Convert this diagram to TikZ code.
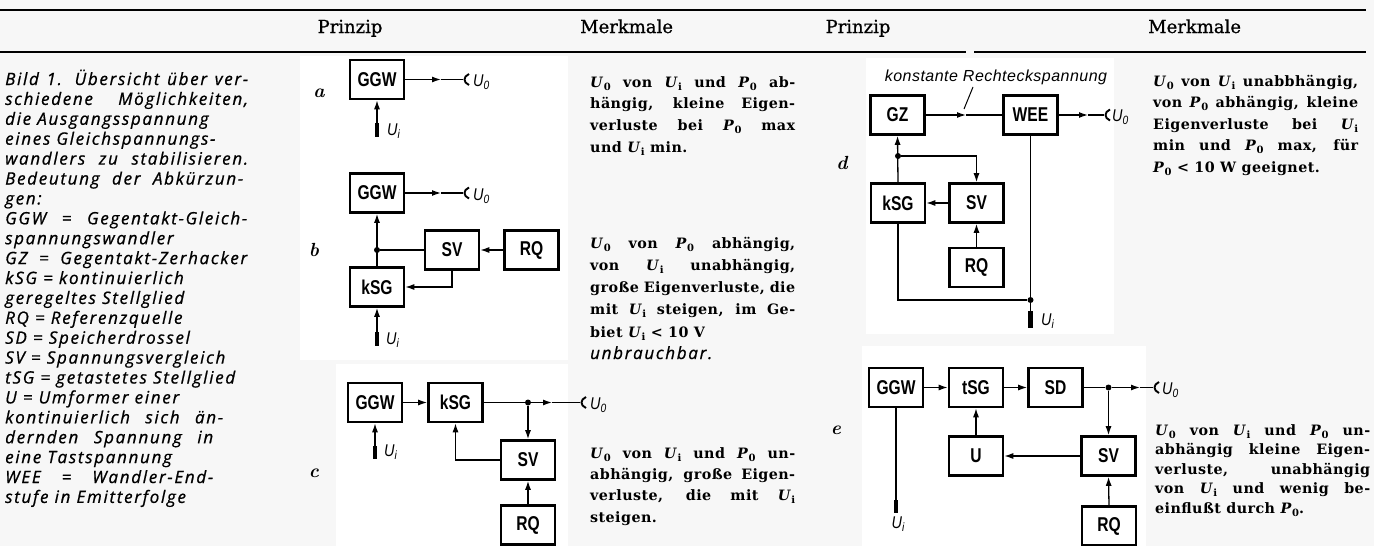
\documentclass[tikz,border=0pt]{standalone}
\usepackage{fontspec}
\usetikzlibrary{arrows.meta,calc}
\newfontfamily\capfont[LetterSpace=10,FakeBold=0.8]{Open Sans}
\newfontfamily\mfont[LetterSpace=3]{DejaVu Serif}
\newfontfamily\hfont[FakeBold=0.8]{DejaVu Serif}
\newfontfamily\bxfont[FakeStretch=0.78]{Liberation Sans}
\newfontfamily\lfont[FakeStretch=0.85]{Liberation Sans}
\newfontfamily\krfont[LetterSpace=3]{Liberation Sans}
\newcommand\JL[2]{\makebox[#1][s]{#2}}
\newcommand\Sb[2]{\textit{#1}\raisebox{-0.45ex}{\fontsize{10}{10}\selectfont #2}}
\newcommand\Lsub[2]{#1\raisebox{-0.35ex}{\fontsize{12}{12}\selectfont #2}}
\begin{document}
\begin{tikzpicture}[x=1pt,y=-1pt,
  blk/.style={draw, line width=2.6pt, minimum width=54pt, minimum height=39pt, inner sep=0pt,
    font=\bxfont\bfseries\fontsize{20}{20}\selectfont},
  ln/.style={line width=1.3pt},
  arr/.style={ln, -{Latex[length=9pt,width=6pt]}},
  stub/.style={line width=4.5pt},
  dot/.style={circle, fill, inner sep=0pt, minimum size=6pt},
  lbl/.style={inner sep=0pt, font=\lfont\itshape\fontsize{17}{17}\selectfont},
  abclbl/.style={inner sep=0pt, font=\itshape\bfseries\fontsize{19}{19}\selectfont},
  captxt/.style={anchor=base west, inner sep=0pt, font=\capfont\itshape\fontsize{17}{19}\selectfont},
  mk/.style={anchor=base west, inner sep=0pt, font=\mfont\bfseries\fontsize{14.3}{17}\selectfont},
  hd/.style={anchor=base, inner sep=0pt, font=\hfont\fontsize{18}{18}\selectfont},
  term/.pic={\draw[line width=1.9pt] (6,-5.5) .. controls (0,-3) and (0,3) .. (6,5.5);}
]
\useasboundingbox (0,0) rectangle (1374,546);
\fill[gray!6] (0,0) rectangle (1374,546);
\fill[white] (300,56) rectangle (568,360);
\fill[white] (336,364) rectangle (568,546);
\fill[white] (866,58) rectangle (1114,334);
\fill[white] (862,346) rectangle (1146,546);

% header rules
\draw[line width=1.6pt] (0,10) -- (1366,10);
\draw[line width=1.6pt] (0,52) -- (966,52);
\draw[line width=1.6pt] (974,52) -- (1366,52);
\node[hd] (h1) at (350,33) {Prinzip};
\node[hd, anchor=base west] (h2) at (580,33) {Merkmale};
\node[hd] (h3) at (858,33) {Prinzip};
\node[hd, anchor=base west] (h4) at (1148,33) {Merkmale};

% caption
\node[captxt] (c1) at (5,85) {\JL{243pt}{Bild 1. Übersicht über ver-}};
\node[captxt] (c2) at (5,104.9) {\JL{243pt}{schiedene Möglichkeiten,}};
\node[captxt] (c3) at (5,124.8) {die Ausgangsspannung};
\node[captxt] (c4) at (5,144.7) {eines Gleichspannungs-};
\node[captxt] (c5) at (5,164.6) {\JL{243pt}{wandlers zu stabilisieren.}};
\node[captxt] (c6) at (5,184.5) {\JL{238pt}{Bedeutung der Abkürzun-}};
\node[captxt] (c7) at (5,204.4) {gen:};
\node[captxt] (c8) at (5,224.3) {\JL{242pt}{GGW = Gegentakt-Gleich-}};
\node[captxt] (c9) at (5,244.2) {spannungswandler};
\node[captxt] (c10) at (5,264.1) {\JL{242pt}{GZ = Gegentakt-Zerhacker}};
\node[captxt] (c11) at (5,284) {kSG = kontinuierlich};
\node[captxt] (c12) at (5,303.9) {geregeltes Stellglied};
\node[captxt] (c13) at (5,323.8) {RQ = Referenzquelle};
\node[captxt] (c14) at (5,343.7) {SD = Speicherdrossel};
\node[captxt] (c15) at (5,363.6) {SV = Spannungsvergleich};
\node[captxt] (c16) at (5,383.5) {tSG = getastetes Stellglied};
\node[captxt] (c17) at (5,403.4) {U = Umformer einer};
\node[captxt] (c18) at (5,423.3) {\JL{218pt}{kontinuierlich sich än-}};
\node[captxt] (c19) at (5,443.2) {\JL{208pt}{dernden Spannung in}};
\node[captxt] (c20) at (5,463.1) {eine Tastspannung};
\node[captxt] (c21) at (5,483) {\JL{208pt}{WEE = Wandler-End-}};
\node[captxt] (c22) at (5,502.9) {stufe in Emitterfolge};

% Merkmale a
\node[mk] (ma1) at (590,87) {\JL{205pt}{\Sb U0 von \Sb Ui und \Sb P0 ab-}};
\node[mk] (ma2) at (590,108.5) {\JL{205pt}{hängig, kleine Eigen-}};
\node[mk] (ma3) at (590,130) {\JL{205pt}{verluste bei \Sb P0 max}};
\node[mk] (ma4) at (590,152) {und \Sb Ui min.};
% Merkmale b
\node[mk] (mb1) at (590,248) {\JL{205pt}{\Sb U0 von \Sb P0 abhängig,}};
\node[mk] (mb2) at (590,270) {\JL{205pt}{von \Sb Ui unabhängig,}};
\node[mk] (mb3) at (590,292) {\JL{205pt}{große Eigenverluste, die}};
\node[mk] (mb4) at (590,314) {\JL{205pt}{mit \Sb Ui steigen, im Ge-}};
\node[mk] (mb5) at (590,337) {biet \Sb Ui < 10 V};
\node[captxt] (mb6) at (590,359) {unbrauchbar.};
% Merkmale c
\node[mk] (mc1) at (590,458) {\JL{205pt}{\Sb U0 von \Sb Ui und \Sb P0 un-}};
\node[mk] (mc2) at (590,479) {\JL{205pt}{abhängig, große Eigen-}};
\node[mk] (mc3) at (590,500) {\JL{205pt}{verluste, die mit \Sb Ui}};
\node[mk] (mc4) at (590,522) {steigen.};
% Merkmale d
\node[mk] (md1) at (1153,86) {\JL{205pt}{\Sb U0 von \Sb Ui unabbhängig,}};
\node[mk] (md2) at (1153,107.5) {\JL{205pt}{von \Sb P0 abhängig, kleine}};
\node[mk] (md3) at (1153,129) {\JL{205pt}{Eigenverluste bei \Sb Ui}};
\node[mk] (md4) at (1153,150.5) {\JL{205pt}{min und \Sb P0 max, für}};
\node[mk] (md5) at (1153,172) {\Sb P0 < 10 W geeignet.};
% Merkmale e
\node[mk] (me1) at (1155,435) {\JL{215pt}{\Sb U0 von \Sb Ui und \Sb P0 un-}};
\node[mk] (me2) at (1155,454.5) {\JL{215pt}{abhängig kleine Eigen-}};
\node[mk] (me3) at (1155,474) {\JL{215pt}{verluste, unabhängig}};
\node[mk] (me4) at (1155,493.5) {\JL{215pt}{von \Sb Ui und wenig be-}};
\node[mk] (me5) at (1155,513) {einflußt durch \Sb P0.};

% ---------- diagram a
\node[abclbl] (la) at (319,93) {a};
\node[blk] (GGWa) at (377,79.5) {GGW};
\coordinate (ma) at (441,79.5);
\coordinate (fa) at (463,79.5);
\draw[arr] (GGWa.east) -- (ma);
\draw[ln] (ma) -- (fa);
\pic at (fa) {term};
\node[lbl, anchor=west] (Uoa) at (473,82) {\Lsub{U}{0}};
\coordinate (sa1) at (377,123);
\coordinate (sa2) at (377,137);
\draw[stub] (sa1) -- (sa2);
\draw[arr] (sa1) -- (GGWa.south);
\node[lbl, anchor=west] (Uia) at (387,131) {\Lsub{U}{i}};

% ---------- diagram b
\node[abclbl] (lb) at (314,250) {b};
\node[blk] (GGWb) at (377,193) {GGW};
\node[blk] (SVb) at (452,250) {SV};
\node[blk] (RQb) at (531.5,250) {RQ};
\node[blk] (kSGb) at (377,287) {kSG};
\coordinate (mb) at (441,193);
\coordinate (fb) at (463,193);
\draw[arr] (GGWb.east) -- (mb);
\draw[ln] (mb) -- (fb);
\pic at (fb) {term};
\node[lbl, anchor=west] (Uob) at (473,196) {\Lsub{U}{0}};
\node[dot] (jb) at (377,250) {};
\draw[arr] (kSGb.north) -- (GGWb.south);
\draw[ln] (SVb.west) -- (jb);
\draw[arr] (RQb.west) -- (SVb.east);
\draw[arr] (SVb.south) |- (kSGb.east);
\coordinate (sb1) at (377,332);
\coordinate (sb2) at (377,346);
\draw[stub] (sb1) -- (sb2);
\draw[arr] (sb1) -- (kSGb.south);
\node[lbl, anchor=west] (Uib) at (386,340) {\Lsub{U}{i}};

% ---------- diagram c
\node[abclbl] (lc) at (314,473) {c};
\node[blk] (GGWc) at (375,402.5) {GGW};
\node[blk] (kSGc) at (455.5,402.5) {kSG};
\node[blk] (SVc) at (528,460) {SV};
\node[blk] (RQc) at (528,525) {RQ};
\draw[arr] (GGWc.east) -- (kSGc.west);
\node[dot] (jc) at (528,402.5) {};
\coordinate (mc) at (552,402.5);
\coordinate (fc) at (580,402.5);
\draw[ln] (kSGc.east) -- (jc);
\draw[arr] (jc) -- (mc);
\draw[ln] (mc) -- (fc);
\pic at (fc) {term};
\node[lbl, anchor=west] (Uoc) at (590,405) {\Lsub{U}{0}};
\draw[arr] (jc) -- (SVc.north);
\draw[arr] (SVc.west) -| (kSGc.south);
\draw[arr] (RQc.north) -- (SVc.south);
\coordinate (sc1) at (375,446);
\coordinate (sc2) at (375,459);
\draw[stub] (sc1) -- (sc2);
\draw[arr] (sc1) -- (GGWc.south);
\node[lbl, anchor=west] (Uic) at (384,452) {\Lsub{U}{i}};

% ---------- diagram d
\node[abclbl] (ld) at (842,163) {d};
\node[inner sep=0pt, font=\krfont\itshape\fontsize{16}{16}\selectfont] (kr) at (996,77) {konstante Rechteckspannung};
\node[blk] (GZ) at (897.5,115) {GZ};
\node[blk] (WEE) at (1030.5,115) {WEE};
\node[blk] (kSGd) at (898,203) {kSG};
\node[blk] (SVd) at (976.5,203) {SV};
\node[blk] (RQd) at (976.5,267.5) {RQ};
\coordinate (mdd) at (966,115);
\draw[arr] (GZ.east) -- (mdd);
\draw[ln] (mdd) -- (WEE.west);
\coordinate (lt) at (973,87);
\coordinate (lb2) at (964,109);
\draw[line width=1pt] (lt) -- (lb2);
\coordinate (md2) at (1088,115);
\coordinate (fd) at (1104,115);
\draw[arr] (WEE.east) -- (md2);
\draw[ln] (md2) -- (fd);
\pic at (fd) {term};
\node[lbl, anchor=west] (Uod) at (1112,117) {\Lsub{U}{0}};
\node[dot] (jd) at (898,156) {};
\draw[arr] (kSGd.north) -- (GZ.south);
\draw[arr] (jd) -| (SVd.north);
\draw[arr] (SVd.west) -- (kSGd.east);
\draw[arr] (RQd.north) -- (SVd.south);
\node[dot] (jd2) at (1030.5,300) {};
\draw[ln] (kSGd.south) |- (jd2);
\coordinate (sd1) at (1030.5,311);
\coordinate (sd2) at (1030.5,328);
\draw[ln] (WEE.south) -- (sd1);
\draw[stub] (sd1) -- (sd2);
\node[lbl, anchor=west] (Uid) at (1041,321) {\Lsub{U}{i}};

% ---------- diagram e
\node[abclbl] (le) at (836,430) {e};
\node[blk] (GGWe) at (896,387.5) {GGW};
\node[blk] (tSG) at (976,387.5) {tSG};
\node[blk] (SD) at (1055.5,387.5) {SD};
\node[blk] (Ue) at (976,456) {U};
\node[blk] (SVe) at (1108.5,456) {SV};
\node[blk] (RQe) at (1109,526) {RQ};
\draw[arr] (GGWe.east) -- (tSG.west);
\draw[arr] (tSG.east) -- (SD.west);
\node[dot] (je) at (1108.5,387.5) {};
\coordinate (me) at (1140,387.5);
\coordinate (fe) at (1153,387.5);
\draw[ln] (SD.east) -- (je);
\draw[arr] (je) -- (me);
\draw[ln] (me) -- (fe);
\pic at (fe) {term};
\node[lbl, anchor=west] (Uoe) at (1162,390) {\Lsub{U}{0}};
\draw[arr] (je) -- (SVe.north);
\draw[arr] (SVe.west) -- (Ue.east);
\draw[arr] (Ue.north) -- (tSG.south);
\draw[arr] (RQe.north) -- (SVe.south);
\coordinate (se1) at (896,500);
\coordinate (se2) at (896,513);
\draw[ln] (GGWe.south) -- (se1);
\draw[stub] (se1) -- (se2);
\node[lbl] (Uie) at (898,524) {\Lsub{U}{i}};
\end{tikzpicture}
\end{document}
